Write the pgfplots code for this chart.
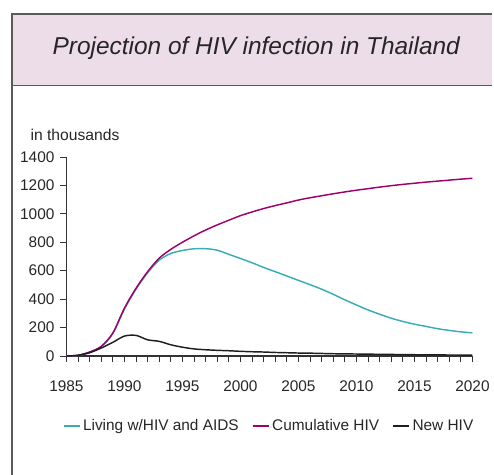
\documentclass[border=0pt]{standalone}
\usepackage{pgfplots}
\pgfplotsset{compat=1.18}
\usepackage{pgfplotstable}
\usepackage{fontspec}
\setmainfont{Liberation Sans}
\definecolor{framegray}{RGB}{90,90,90}
\definecolor{titlepink}{RGB}{236,221,232}
\definecolor{livingc}{RGB}{58,172,184}
\definecolor{cumc}{RGB}{158,0,110}
\definecolor{newc}{RGB}{30,30,30}
\pgfplotstableread{
year living cum new
1985 0 0 0
1986 4 5 5
1987 26 28 23
1988 66 68 56
1989 158 161 96
1990 330 336 140
1991 470 476 145
1992 585 593 114
1993 674 688 103
1994 721 750 79
1995 742 800 62
1996 754 845 50
1997 755 886 44
1998 744 922 40
1999 715 955 37
2000 686 987 33
2001 656 1013 30
2002 623 1037 28
2003 593 1058 25
2004 563 1077 23
2005 532 1097 21
2006 502 1113 20
2007 470 1127 18
2008 434 1141 16
2009 395 1154 15
2010 359 1166 14
2011 324 1177 13
2012 294 1188 12
2013 266 1198 11
2014 243 1207 10
2015 224 1215 9
2016 208 1223 8
2017 192 1230 8
2018 180 1237 7
2019 170 1244 7
2020 163 1250 6
}\datatable
\begin{document}
\begin{tikzpicture}
\begin{scope}[x=0.75pt,y=-0.75pt]
\useasboundingbox (0,0) rectangle (494,477);
\fill[titlepink] (12,14) rectangle (494,86);
\draw[framegray,line width=1.1pt] (494,14) -- (12,14) -- (12,477);
\draw[framegray,line width=0.8pt] (12,86) -- (494,86);
\node[font=\fontsize{18.4}{22}\selectfont\itshape,text=black!85] at (257.5,48.5) {Projection of HIV infection in Thailand};
\node[font=\fontsize{11.8}{14}\selectfont,anchor=west,text=black!85] at (26,136) {in thousands};
\end{scope}
\begin{axis}[
  at={(50.025pt,-268.275pt)}, anchor=south west,
  scale only axis, width=306pt, height=150pt,
  xmin=1985, xmax=2020, ymin=0, ymax=1400,
  axis lines=left, axis line style={-, black!80, line width=0.8pt},
  xtick={1985,1990,...,2020}, minor xtick={1985,...,2020},
  ytick={0,200,...,1400},
  tick align=outside, major tick length=4.5pt, minor tick length=4.5pt,
  every tick/.style={black!80, line width=0.6pt},
  /pgf/number format/assume math mode=true,
  /pgf/number format/1000 sep={},
  tick label style={font=\fontsize{11.6}{14}\selectfont, text=black!85},
  xticklabel style={yshift=-10.5pt},
  yticklabel style={xshift=-1pt},
  legend columns=3,
  legend style={at={(0.5,-0.353)}, anchor=center, draw=none, fill=none,
    font=\fontsize{11.6}{14}\selectfont,
    /tikz/every even column/.append style={column sep=8pt}},
  legend image code/.code={\draw[#1] (0pt,0pt) -- (12pt,0pt);},
  clip=false,
]
\addlegendimage{livingc, line width=1.2pt}
\addlegendentry{\textcolor{black!85}{Living w/HIV and AIDS}}
\addlegendimage{cumc, line width=1.2pt}
\addlegendentry{\textcolor{black!85}{Cumulative HIV}}
\addlegendimage{newc, line width=1.2pt}
\addlegendentry{\textcolor{black!85}{New HIV}}
\addplot[livingc, line width=1.1pt, smooth, forget plot] table[x=year,y=living] {\datatable};
\addplot[cumc, line width=1.1pt, smooth, forget plot] table[x=year,y=cum] {\datatable};
\addplot[newc, line width=1.1pt, smooth, forget plot] table[x=year,y=new] {\datatable};
\end{axis}
\end{tikzpicture}
\end{document}
